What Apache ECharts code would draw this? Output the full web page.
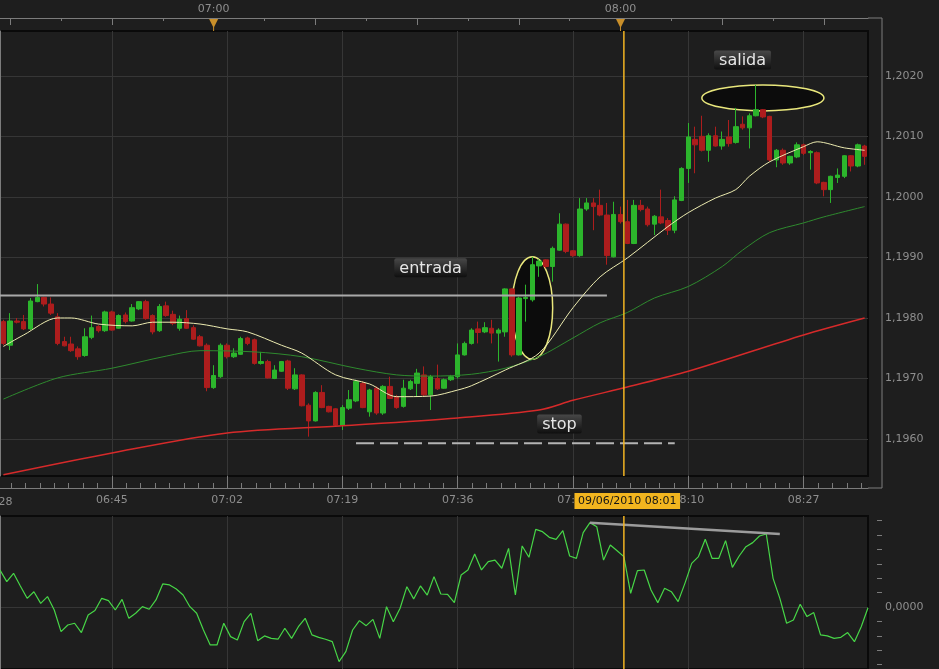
<!DOCTYPE html>
<html>
<head>
<meta charset="utf-8">
<style>
  html, body { margin: 0; padding: 0; background: #1e1e1e; }
  #chart { width: 939px; height: 669px; }
</style>
<script src="https://cdn.jsdelivr.net/npm/echarts@6/dist/echarts.min.js"></script>
</head>
<body>
<div id="chart"></div>
<script>
(function () {
  var myChart = echarts.init(document.getElementById("chart"));

  // one-minute candles, first one at 06:29 : [open, close, low, high]
  const firstCandle = "06:29";
  const ohlc = [
    [1.19794, 1.19758, 1.19755, 1.19797], [1.19755, 1.19795, 1.19747, 1.19808],
    [1.19795, 1.19793, 1.19791, 1.19800], [1.19794, 1.19782, 1.19780, 1.19805],
    [1.19782, 1.19828, 1.19780, 1.19833], [1.19827, 1.19834, 1.19826, 1.19856],
    [1.19834, 1.19823, 1.19819, 1.19835], [1.19823, 1.19808, 1.19805, 1.19834],
    [1.19802, 1.19758, 1.19755, 1.19808], [1.19761, 1.19754, 1.19753, 1.19769],
    [1.19757, 1.19746, 1.19744, 1.19769], [1.19749, 1.19736, 1.19731, 1.19753],
    [1.19738, 1.19769, 1.19736, 1.19783], [1.19768, 1.19784, 1.19765, 1.19804],
    [1.19786, 1.19779, 1.19776, 1.19788], [1.19779, 1.19810, 1.19777, 1.19812],
    [1.19810, 1.19780, 1.19779, 1.19812], [1.19783, 1.19804, 1.19782, 1.19806],
    [1.19805, 1.19794, 1.19791, 1.19809], [1.19795, 1.19817, 1.19794, 1.19823],
    [1.19815, 1.19827, 1.19813, 1.19828], [1.19827, 1.19799, 1.19797, 1.19830],
    [1.19804, 1.19777, 1.19773, 1.19806], [1.19779, 1.19819, 1.19777, 1.19823],
    [1.19820, 1.19804, 1.19802, 1.19827], [1.19806, 1.19791, 1.19788, 1.19812],
    [1.19783, 1.19798, 1.19779, 1.19804], [1.19799, 1.19783, 1.19782, 1.19813],
    [1.19784, 1.19765, 1.19764, 1.19788], [1.19769, 1.19754, 1.19753, 1.19772],
    [1.19755, 1.19685, 1.19679, 1.19758], [1.19685, 1.19705, 1.19683, 1.19722],
    [1.19703, 1.19755, 1.19701, 1.19758], [1.19755, 1.19736, 1.19733, 1.19758],
    [1.19736, 1.19742, 1.19734, 1.19750], [1.19740, 1.19766, 1.19739, 1.19769],
    [1.19767, 1.19758, 1.19755, 1.19769], [1.19764, 1.19725, 1.19723, 1.19766],
    [1.19725, 1.19728, 1.19723, 1.19744], [1.19728, 1.19701, 1.19700, 1.19731],
    [1.19700, 1.19714, 1.19699, 1.19722], [1.19712, 1.19728, 1.19711, 1.19729],
    [1.19729, 1.19684, 1.19681, 1.19731], [1.19683, 1.19706, 1.19681, 1.19717],
    [1.19706, 1.19655, 1.19654, 1.19707], [1.19656, 1.19630, 1.19604, 1.19659],
    [1.19630, 1.19677, 1.19629, 1.19679], [1.19677, 1.19652, 1.19651, 1.19689],
    [1.19654, 1.19645, 1.19644, 1.19655], [1.19650, 1.19623, 1.19622, 1.19651],
    [1.19623, 1.19652, 1.19615, 1.19656], [1.19651, 1.19665, 1.19648, 1.19681],
    [1.19663, 1.19695, 1.19661, 1.19698], [1.19692, 1.19652, 1.19651, 1.19695],
    [1.19645, 1.19681, 1.19637, 1.19683], [1.19684, 1.19643, 1.19640, 1.19687],
    [1.19643, 1.19687, 1.19640, 1.19689], [1.19687, 1.19667, 1.19666, 1.19703],
    [1.19670, 1.19652, 1.19650, 1.19673], [1.19654, 1.19684, 1.19652, 1.19698],
    [1.19683, 1.19695, 1.19681, 1.19698], [1.19692, 1.19709, 1.19670, 1.19716],
    [1.19706, 1.19673, 1.19670, 1.19720], [1.19673, 1.19703, 1.19648, 1.19706],
    [1.19700, 1.19683, 1.19681, 1.19723], [1.19684, 1.19698, 1.19683, 1.19700],
    [1.19698, 1.19703, 1.19696, 1.19706], [1.19703, 1.19739, 1.19700, 1.19758],
    [1.19739, 1.19758, 1.19738, 1.19761], [1.19758, 1.19780, 1.19756, 1.19783],
    [1.19782, 1.19776, 1.19758, 1.19794], [1.19777, 1.19784, 1.19775, 1.19793],
    [1.19783, 1.19775, 1.19758, 1.19797], [1.19775, 1.19780, 1.19728, 1.19783],
    [1.19777, 1.19848, 1.19769, 1.19849], [1.19848, 1.19739, 1.19736, 1.19849],
    [1.19739, 1.19833, 1.19738, 1.19835], [1.19832, 1.19834, 1.19794, 1.19855],
    [1.19830, 1.19888, 1.19827, 1.19901], [1.19886, 1.19894, 1.19868, 1.19897],
    [1.19896, 1.19885, 1.19882, 1.19897], [1.19885, 1.19915, 1.19860, 1.19918],
    [1.19912, 1.19955, 1.19911, 1.19973], [1.19955, 1.19910, 1.19907, 1.19956],
    [1.19911, 1.19903, 1.19901, 1.19912], [1.19903, 1.19980, 1.19901, 1.19998],
    [1.19980, 1.19990, 1.19977, 1.19998], [1.19990, 1.19984, 1.19945, 1.19998],
    [1.19986, 1.19970, 1.19968, 1.20012], [1.19970, 1.19903, 1.19888, 1.19990],
    [1.19901, 1.19971, 1.19900, 1.19992], [1.19971, 1.19959, 1.19956, 1.19984],
    [1.19959, 1.19923, 1.19922, 1.19995], [1.19923, 1.19986, 1.19922, 1.19995],
    [1.19986, 1.19979, 1.19976, 1.19995], [1.19980, 1.19954, 1.19951, 1.19984],
    [1.19955, 1.19968, 1.19937, 1.19970], [1.19967, 1.19957, 1.19955, 1.20012],
    [1.19961, 1.19945, 1.19937, 1.19965], [1.19945, 1.19995, 1.19940, 1.20001],
    [1.19994, 1.20047, 1.19993, 1.20049], [1.20047, 1.20099, 1.20023, 1.20122],
    [1.20095, 1.20086, 1.20039, 1.20116], [1.20100, 1.20077, 1.20075, 1.20134],
    [1.20077, 1.20101, 1.20058, 1.20105], [1.20101, 1.20084, 1.20083, 1.20116],
    [1.20084, 1.20095, 1.20078, 1.20108], [1.20099, 1.20088, 1.20083, 1.20127],
    [1.20090, 1.20116, 1.20088, 1.20147], [1.20120, 1.20114, 1.20111, 1.20133],
    [1.20114, 1.20134, 1.20080, 1.20138], [1.20134, 1.20144, 1.20133, 1.20185],
    [1.20144, 1.20132, 1.20130, 1.20145], [1.20133, 1.20061, 1.20058, 1.20134],
    [1.20061, 1.20077, 1.20049, 1.20079], [1.20077, 1.20056, 1.20053, 1.20080],
    [1.20056, 1.20067, 1.20053, 1.20068], [1.20066, 1.20086, 1.20064, 1.20090],
    [1.20086, 1.20072, 1.20069, 1.20088], [1.20073, 1.20075, 1.20045, 1.20077],
    [1.20073, 1.20023, 1.20021, 1.20075], [1.20024, 1.20012, 1.20001, 1.20025],
    [1.20012, 1.20034, 1.19990, 1.20035], [1.20032, 1.20036, 1.20023, 1.20047],
    [1.20034, 1.20068, 1.20031, 1.20069], [1.20068, 1.20051, 1.20042, 1.20069],
    [1.20051, 1.20086, 1.20049, 1.20088], [1.20084, 1.20067, 1.20053, 1.20086],
  ];

  // moving averages
  const maFast = [
    ["06:29", 1.19753], ["06:32", 1.19772], ["06:37", 1.198], ["06:39", 1.198],
    ["06:43", 1.1979], ["06:48", 1.19787], ["06:51", 1.19793], ["06:54", 1.19793],
    ["06:58", 1.1979], ["07:02", 1.19782], ["07:05", 1.19777], ["07:10", 1.19755],
    ["07:13", 1.19742], ["07:18", 1.19706], ["07:23", 1.19691], ["07:27", 1.1967],
    ["07:32", 1.19671], ["07:36", 1.19681], ["07:38", 1.19688], ["07:43", 1.19714],
    ["07:48", 1.19742], ["07:53", 1.19817], ["07:57", 1.19868], ["08:01", 1.19899],
    ["08:07", 1.19951], ["08:10", 1.19974], ["08:14", 1.19998], ["08:17", 1.20012],
    ["08:19", 1.20034], ["08:22", 1.20058], ["08:27", 1.20083], ["08:29", 1.20091],
    ["08:33", 1.20081], ["08:36", 1.20077],
  ];
  const maMid = [
    ["06:29", 1.19666], ["06:37", 1.19701], ["06:45", 1.19717], ["06:53", 1.19737],
    ["06:58", 1.19746], ["07:06", 1.19744], ["07:13", 1.19736], ["07:21", 1.19717],
    ["07:27", 1.19706], ["07:32", 1.19704], ["07:38", 1.19707], ["07:43", 1.19717],
    ["07:48", 1.19736], ["07:53", 1.19767], ["07:57", 1.19792], ["08:01", 1.19809],
    ["08:05", 1.19833], ["08:10", 1.19852], ["08:15", 1.19885], ["08:18", 1.19912],
    ["08:22", 1.19941], ["08:27", 1.19957], ["08:30", 1.19967], ["08:36", 1.19984],
  ];
  const maSlow = [
    ["06:29", 1.19541], ["06:45", 1.19577], ["07:02", 1.1961], ["07:19", 1.19622],
    ["07:36", 1.19635], ["07:48", 1.19648], ["07:53", 1.19664], ["08:01", 1.19686],
    ["08:10", 1.19712], ["08:27", 1.19772], ["08:36", 1.198],
  ];

  // oscillator, one point per minute from 06:28
  const firstIndicator = "06:28";
  const indicator = [
    2.57, 1.76, 2.34, 1.46, 0.6, 1.06, 0.25, 0.72, -0.21, -1.71,
    -1.25, -1.13, -1.78, -0.56, -0.25, 0.6, 0.44, -0.21, 0.53, -0.79,
    -0.44, 0.02, -0.16, 0.49, 1.6, 1.53, 1.25, 0.83, 0.02, -0.44,
    -1.6, -2.64, -2.64, -1.13, -2.06, -2.29, -1.02, -0.44, -2.34, -2.01,
    -2.18, -2.24, -1.48, -2.18, -1.37, -0.79, -1.94, -2.11, -2.24, -2.41,
    -3.8, -3.1, -1.6, -0.95, -1.3, -0.86, -2.18, 0.02, -1.02, -0.09,
    1.41, 0.56, 1.46, 0.83, 2.11, 0.9, 0.88, 0.3, 2.22, 2.57,
    3.68, 2.57, 3.15, 3.26, 2.69, 4.07, 0.83, 4.24, 3.45, 5.39,
    5.23, 4.84, 4.7, 5.3, 3.54, 3.38, 5.16, 5.86, 5.58, 3.26,
    4.31, 3.91, 3.5, 0.95, 2.52, 2.57, 1.18, 0.3, 1.3, 1.06,
    0.37, 1.64, 3.03, 3.5, 4.7, 3.38, 3.38, 4.61, 2.75, 3.54,
    4.19, 4.47, 4.93, 5.07, 1.99, 0.6, -1.13, -0.9, 0.19, -0.67,
    -0.39, -1.94, -2.01, -2.18, -2.11, -1.78, -2.41, -1.37, -0.05,
  ];
  const divergence = [["07:55", 5.85], ["08:23", 5.07]];

  const priceTicks = [1.196, 1.197, 1.198, 1.199, 1.2, 1.201, 1.202];
  const priceRange = [1.19539, 1.20274];
  const indicatorRange = [-4.31, 6.32];
  const timeLabels = ["06:45", "07:02", "07:19", "07:36", "07:53", "08:10", "08:27"];
  const hourMarks = ["07:00", "08:00"];
  const cursorTime = "08:01";
  const cursorText = "09/06/2010 08:01";

  // trade annotations
  const entradaLevel = 1.19837;
  const entradaSpan = ["06:28", "07:58"];
  const stopLevel = 1.19593;
  const stopSpan = ["07:21", "08:08"];
  const entradaZone = { from: "07:44", to: "07:50", high: 1.19901, low: 1.19732 };
  const salidaZone = { from: "08:12", to: "08:30", high: 1.20185, low: 1.20142 };
  const tags = [
    { text: "entrada", time: "07:32", price: 1.19883 },
    { text: "salida", time: "08:18", price: 1.20226 },
    { text: "stop", time: "07:51", price: 1.19625 },
  ];

  const upColor = "#2cb52c";
  const downColor = "#ad1d1d";
  const axisColor = "#7c7c7c";
  const labelColor = "#8e8e8e";
  const gridColor = "#363636";
  const font = '"DejaVu Sans", sans-serif';

  function minutes(t) {
    const p = t.split(":");
    return +p[0] * 60 + +p[1];
  }
  function clock(m) {
    m = Math.round(m);
    return String(Math.floor(m / 60)).padStart(2, "0") + ":" + String(m % 60).padStart(2, "0");
  }
  // position on the candle band scale (candle i sits at i + 0.5)
  function uOf(t) {
    return minutes(t) - minutes(firstCandle) + 0.5;
  }
  function uClock(u) {
    return clock(minutes(firstCandle) + u - 0.5);
  }
  const price = (v) => v.toFixed(4).replace(".", ",");

  const candleTimes = ohlc.map((d, i) => clock(minutes(firstCandle) + i));
  const indicatorTimes = indicator.map((d, i) => clock(minutes(firstIndicator) + i));
  const bandMax = ohlc.length;

  const majorU = timeLabels.map(uOf);
  const minorU = [];
  for (let u = majorU[0] - 17 + 17 / 8; u < bandMax; u += 17 / 8) if (u > 0) minorU.push(u);
  const topMajorU = [];
  const topMinorU = [];
  for (let m = minutes("06:30"); uOf(clock(m)) < bandMax; m += 15) topMajorU.push(uOf(clock(m)));
  topMajorU.forEach((u) => { if (u + 7.5 < bandMax) topMinorU.push(u + 7.5); });
  const priceMinor = [];
  for (let k = 0; k < 58; k++) priceMinor.push(Math.round((1.1955 + k * 0.000125) * 1e6) / 1e6);
  const indicatorMinor = [-4, -3, -2, -1, 1, 2, 3, 4, 5, 6];

  const tick = (len, values, show) => ({
    show: show !== false, inside: true, length: len, customValues: values,
    lineStyle: { color: axisColor },
  });
  const label = (values, fmt, margin) => ({
    show: true, customValues: values, formatter: fmt, margin: margin,
    color: labelColor, fontSize: 11, fontFamily: font,
  });
  const off = { show: false };

  option = {
    animation: false,
    backgroundColor: "#1e1e1e",
    textStyle: { fontFamily: font },
    grid: [
      { left: 0, right: 71, top: 31, height: 445, show: true, borderColor: "#0a0a0a",
        borderWidth: 2, backgroundColor: "transparent", outerBoundsMode: "none" },
      { left: 0, right: 71, top: 516, bottom: 0, show: true, borderColor: "#0a0a0a",
        borderWidth: 2, backgroundColor: "transparent", outerBoundsMode: "none" },
    ],
    xAxis: [
      { type: "category", gridIndex: 0, data: candleTimes, show: false },
      { type: "value", gridIndex: 0, position: "bottom", offset: 12, min: 0, max: bandMax,
        axisLine: { show: true, lineStyle: { color: axisColor } },
        axisTick: tick(12, majorU),
        axisLabel: label(majorU, uClock, 7),
        splitLine: { show: true, lineStyle: { color: gridColor } } },
      { type: "value", gridIndex: 0, position: "bottom", offset: 12, min: 0, max: bandMax,
        axisLine: off, axisTick: tick(5, minorU), axisLabel: off, splitLine: off },
      { type: "value", gridIndex: 0, position: "top", offset: 13, min: 0, max: bandMax,
        axisLine: { show: true, lineStyle: { color: axisColor } },
        axisTick: tick(7, topMajorU),
        axisLabel: label(hourMarks.map(uOf), uClock, 3),
        splitLine: off },
      { type: "value", gridIndex: 0, position: "top", offset: 13, min: 0, max: bandMax,
        axisLine: off, axisTick: tick(3, topMinorU), axisLabel: off, splitLine: off },
      { type: "category", gridIndex: 1, data: indicatorTimes, boundaryGap: false, show: false },
      { type: "value", gridIndex: 1, min: 0, max: bandMax,
        axisLine: off, axisTick: tick(0, majorU, false), axisLabel: off,
        splitLine: { show: true, lineStyle: { color: gridColor } } },
    ],
    yAxis: [
      { type: "value", gridIndex: 0, position: "right", offset: 14,
        min: priceRange[0], max: priceRange[1],
        axisLine: { show: true, lineStyle: { color: axisColor } },
        axisTick: tick(14, priceTicks),
        axisLabel: label(priceTicks, price, 3),
        splitLine: { show: true, lineStyle: { color: gridColor } } },
      { type: "value", gridIndex: 0, position: "right", offset: 14,
        min: priceRange[0], max: priceRange[1],
        axisLine: off, axisTick: tick(5, priceMinor), axisLabel: off, splitLine: off },
      { type: "value", gridIndex: 1, position: "right", offset: 14,
        min: indicatorRange[0], max: indicatorRange[1],
        axisLine: { show: true, lineStyle: { color: axisColor } },
        axisTick: tick(14, [0]),
        axisLabel: label([0], price, 3),
        splitLine: { show: true, lineStyle: { color: gridColor } } },
      { type: "value", gridIndex: 1, position: "right", offset: 14,
        min: indicatorRange[0], max: indicatorRange[1],
        axisLine: off, axisTick: tick(5, indicatorMinor), axisLabel: off, splitLine: off },
    ],
    series: [
      {
        type: "candlestick", xAxisIndex: 0, yAxisIndex: 0, data: ohlc, barWidth: 5,
        itemStyle: { color: upColor, color0: downColor, borderColor: upColor,
          borderColor0: downColor, borderWidth: 1 },
      },
      {
        type: "line", xAxisIndex: 1, yAxisIndex: 0, symbol: "none", silent: true,
        data: entradaSpan.map((t) => [uOf(t), entradaLevel]),
        lineStyle: { color: "#a9a9a9", width: 2 },
      },
      {
        type: "line", xAxisIndex: 1, yAxisIndex: 0, symbol: "none", silent: true,
        data: stopSpan.map((t) => [uOf(t), stopLevel]),
        lineStyle: { color: "#b4b4b4", width: 2, type: [18, 6] },
      },
      {
        type: "line", xAxisIndex: 0, yAxisIndex: 0, symbol: "none", smooth: 0.3, data: maSlow,
        lineStyle: { color: "#d62a2a", width: 1.5 },
      },
      {
        type: "line", xAxisIndex: 0, yAxisIndex: 0, symbol: "none", smooth: 0.3, data: maMid,
        lineStyle: { color: "#2e8a2e", width: 1 },
      },
      {
        type: "line", xAxisIndex: 0, yAxisIndex: 0, symbol: "none", smooth: 0.3, data: maFast,
        lineStyle: { color: "#ecebb0", width: 1 },
      },
      {
        type: "line", xAxisIndex: 5, yAxisIndex: 2, symbol: "none", data: indicator,
        lineStyle: { color: "#47d647", width: 1.2 },
      },
      {
        type: "line", xAxisIndex: 5, yAxisIndex: 2, symbol: "none", data: divergence,
        lineStyle: { color: "#9c9c9c", width: 2.5 },
      },
    ],
  };

  myChart.setOption(option, true);

  // annotations placed through the axes
  const ctx = document.createElement("canvas").getContext("2d");
  function textWidth(t, f) {
    ctx.font = f;
    return ctx.measureText(t).width;
  }
  const px = (t, p) => myChart.convertToPixel({ xAxisIndex: 1, yAxisIndex: 0 }, [uOf(t), p]);
  const top0 = myChart.convertToPixel({ yAxisIndex: 0 }, priceRange[1]);
  const bottom0 = myChart.convertToPixel({ yAxisIndex: 0 }, priceRange[0]);
  const top1 = myChart.convertToPixel({ yAxisIndex: 2 }, indicatorRange[1]);
  const bottom1 = myChart.convertToPixel({ yAxisIndex: 2 }, indicatorRange[0]);
  const rightEdge = myChart.convertToPixel({ xAxisIndex: 1 }, bandMax);

  function zone(z) {
    const a = px(z.from, z.high);
    const b = px(z.to, z.low);
    return {
      type: "ellipse", z: 1,
      shape: { cx: (a[0] + b[0]) / 2, cy: (a[1] + b[1]) / 2, rx: (b[0] - a[0]) / 2, ry: (b[1] - a[1]) / 2 },
      style: { fill: "#0c0c0c", stroke: "#e9e77c", lineWidth: 1.5 },
    };
  }
  const tagFont = '16px "DejaVu Sans"';
  function tagBox(t) {
    const p = px(t.time, t.price);
    const w = textWidth(t.text, tagFont) + 10;
    const h = 19;
    return [
      { type: "rect", z: 5, shape: { x: p[0] - w / 2, y: p[1] - h / 2, width: w, height: h, r: 2 },
        style: { fill: new echarts.graphic.LinearGradient(0, 0, 0, 1, [
          { offset: 0, color: "#484848" }, { offset: 1, color: "#0f0f0f" }]) } },
      { type: "text", z: 6, x: p[0], y: p[1] + 1,
        style: { text: t.text, fill: "#e6e6e6", font: tagFont, align: "center", verticalAlign: "middle" } },
    ];
  }

  const graphics = [zone(entradaZone), zone(salidaZone)];
  tags.forEach((t) => graphics.push(...tagBox(t)));

  // vertical cursor across both panels
  const cx = myChart.convertToPixel({ xAxisIndex: 5 }, indicatorTimes.indexOf("08:00"));
  [[top0, bottom0], [top1, bottom1]].forEach((s) => {
    graphics.push({ type: "line", z: 4, shape: { x1: cx, y1: s[0], x2: cx, y2: s[1] },
      style: { stroke: "#f2b423", lineWidth: 1.5 } });
  });

  // axis frame carried out to the corner where the price axis meets the time axes
  const ax = rightEdge + 14;
  [
    [rightEdge, top0 - 13, ax, top0 - 13],
    [rightEdge, bottom0 + 12, ax, bottom0 + 12],
    [ax, top0 - 13, ax, bottom0 + 12],
  ].forEach((l) => {
    graphics.push({ type: "line", z: 3, shape: { x1: l[0], y1: l[1], x2: l[2], y2: l[3] },
      style: { stroke: axisColor, lineWidth: 1 } });
  });

  // cursor date on the time axis
  const dx = myChart.convertToPixel({ xAxisIndex: 1 }, uOf(cursorTime));
  const dw = textWidth(cursorText, '11px "DejaVu Sans"') + 7;
  graphics.push({ type: "rect", z: 7, shape: { x: dx - dw / 2, y: bottom0 + 17, width: dw, height: 16 },
    style: { fill: "#f2b51f" } });
  graphics.push({ type: "text", z: 8, x: dx, y: bottom0 + 25.5,
    style: { text: cursorText, fill: "#151515", font: '11px "DejaVu Sans"', align: "center", verticalAlign: "middle" } });

  // clipped first label at the left edge
  const lx = myChart.convertToPixel({ xAxisIndex: 1 }, uOf("06:28"));
  graphics.push({ type: "text", z: 8, x: lx, y: bottom0 + 26,
    style: { text: "06:28", fill: labelColor, font: '11px "DejaVu Sans"', align: "center", verticalAlign: "middle" } });

  // hour markers on the top axis
  hourMarks.forEach((t) => {
    const x = myChart.convertToPixel({ xAxisIndex: 1 }, uOf(t));
    graphics.push({ type: "polygon", z: 8,
      shape: { points: [[x - 4.5, top0 - 12], [x + 4.5, top0 - 12], [x, top0 - 3]] },
      style: { fill: "#c98f2a" } });
    graphics.push({ type: "line", z: 8, shape: { x1: x, y1: top0 - 4, x2: x, y2: top0 },
      style: { stroke: "#c98f2a", lineWidth: 1 } });
  });

  myChart.setOption({ graphic: graphics });

  window.onresize = function () {
    myChart.resize();
  };
})();
</script>
</body>
</html>
